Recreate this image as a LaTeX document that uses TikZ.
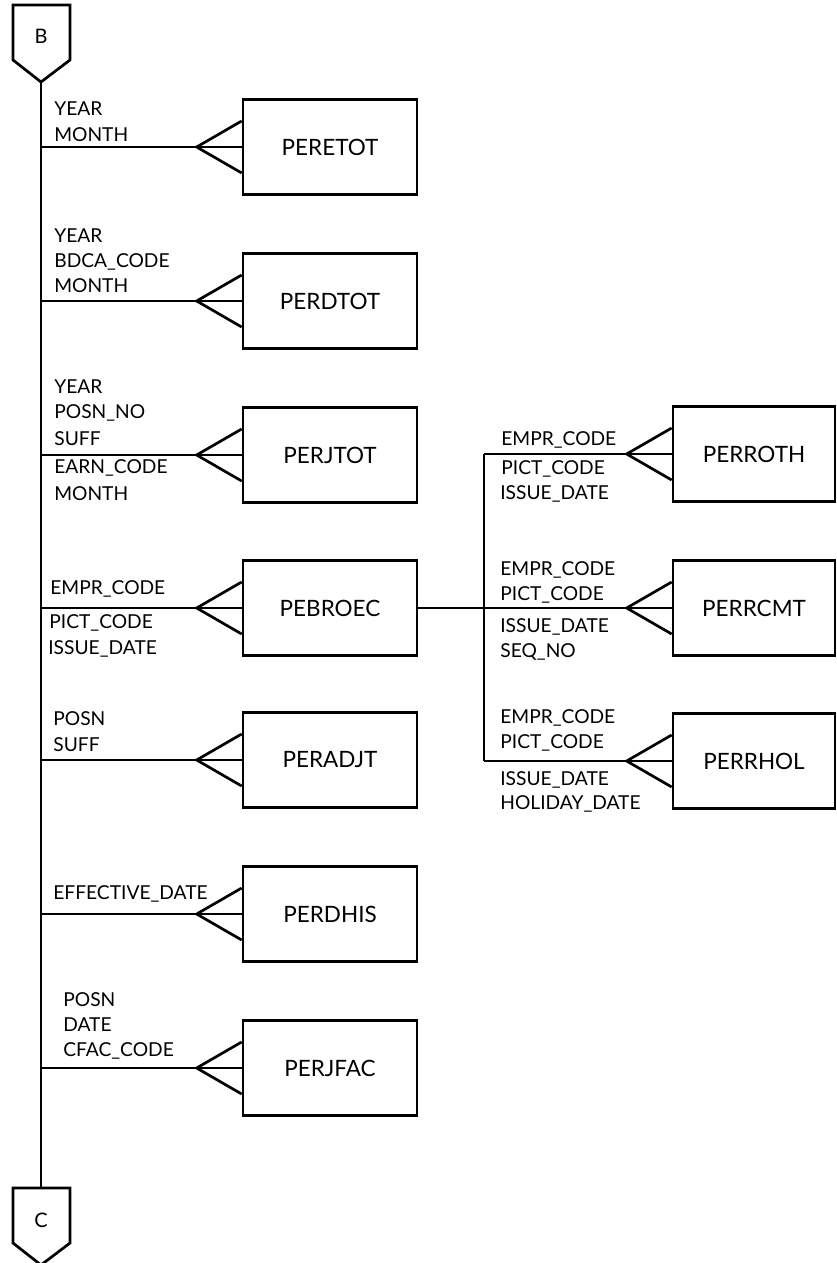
\documentclass[tikz,border=0pt]{standalone}
\usepackage{fontspec}
\setmainfont{Lato}
\begin{document}
\begin{tikzpicture}[x=1pt,y=-1pt,line width=2.7pt,line join=miter,
  entity/.style={draw,rectangle,minimum width=174pt,minimum height=95pt,
    inner sep=0pt,font=\fontsize{22.5}{22.5}\selectfont},
  rentity/.style={entity,minimum width=162pt},
  attr/.style={inner sep=0pt,anchor=base west,font=\fontsize{19.2}{19.2}\selectfont},
  conn/.style={inner sep=0pt,font=\fontsize{20}{20}\selectfont}]
\useasboundingbox (0,0) rectangle (836,1263);

% crow's foot: prongs from an apex to the west side of an entity
\newcommand{\crow}[1]{%
  \draw ([xshift=-45pt]#1.west) -- (#1.west);
  \draw ([yshift=26pt]#1.west) -- ([xshift=-45pt]#1.west) -- ([yshift=-26pt]#1.west);}

% off-page connectors
\draw (13,5) -- (70,5) -- (70,60) -- (41,82) -- (13,60) -- cycle;
\node[conn] (conB) at (41,36) {B};
\coordinate (busTop) at (41,82);
\draw (13,1188) -- (70,1188) -- (70,1243) -- (41,1265) -- (13,1243) -- cycle;
\node[conn] (conC) at (41,1220) {C};
\coordinate (busBot) at (41,1188);
\draw (busTop) -- (busBot);

% entities on the main bus
\node[entity] (peretot) at (330,147) {PERETOT};
\node[entity] (perdtot) at (330,301) {PERDTOT};
\node[entity] (perjtot) at (330,455) {PERJTOT};
\node[entity] (pebroec) at (330,608) {PEBROEC};
\node[entity] (peradjt) at (330,760) {PERADJT};
\node[entity] (perdhis) at (330,914) {PERDHIS};
\node[entity] (perjfac) at (330,1068) {PERJFAC};

\foreach \e in {peretot,perdtot,perjtot,pebroec,peradjt,perdhis,perjfac}{
  \draw (busTop |- \e.west) -- ([xshift=-45pt]\e.west);
  \crow{\e}
}

% entities on the PEBROEC bus
\node[rentity] (perroth) at (754,454) {PERROTH};
\node[rentity] (perrcmt) at (754,608) {PERRCMT};
\node[rentity] (perrhol) at (754,761) {PERRHOL};
\coordinate (rbTop) at (484,454);
\coordinate (rbBot) at (484,761);
\draw (rbTop) -- (rbBot);
\draw (pebroec.east) -- (rbTop |- pebroec.east);
\foreach \e in {perroth,perrcmt,perrhol}{
  \draw (rbTop |- \e.west) -- ([xshift=-45pt]\e.west);
  \crow{\e}
}

% key attributes
\node[attr] (a1) at (53,115) {YEAR};
\node[attr] (a2) at (53,141) {MONTH};

\node[attr] (b1) at (53,242) {YEAR};
\node[attr] (b2) at (53,267) {BDCA\_CODE};
\node[attr] (b3) at (53,292) {MONTH};

\node[attr] (c1) at (53,393) {YEAR};
\node[attr] (c2) at (53,418) {POSN\_NO};
\node[attr] (c3) at (53,445) {SUFF};
\node[attr] (c4) at (53,473) {EARN\_CODE};
\node[attr] (c5) at (53,500) {MONTH};

\node[attr] (d1) at (49,594) {EMPR\_CODE};
\node[attr] (d2) at (48,628) {PICT\_CODE};
\node[attr] (d3) at (47,654) {ISSUE\_DATE};

\node[attr] (e1) at (52,725) {POSN};
\node[attr] (e2) at (52,751) {SUFF};

\node[attr] (f1) at (52,899) {EFFECTIVE\_DATE};

\node[attr] (g1) at (62,1006) {POSN};
\node[attr] (g2) at (62,1031) {DATE};
\node[attr] (g3) at (62,1056) {CFAC\_CODE};

\node[attr] (h1) at (500,445) {EMPR\_CODE};
\node[attr] (h2) at (500,474) {PICT\_CODE};
\node[attr] (h3) at (499,499) {ISSUE\_DATE};

\node[attr] (i1) at (499,575) {EMPR\_CODE};
\node[attr] (i2) at (499,600) {PICT\_CODE};
\node[attr] (i3) at (499,632) {ISSUE\_DATE};
\node[attr] (i4) at (499,657) {SEQ\_NO};

\node[attr] (j1) at (499,723) {EMPR\_CODE};
\node[attr] (j2) at (499,748) {PICT\_CODE};
\node[attr] (j3) at (499,785) {ISSUE\_DATE};
\node[attr] (j4) at (499,809) {HOLIDAY\_DATE};
\end{tikzpicture}
\end{document}
